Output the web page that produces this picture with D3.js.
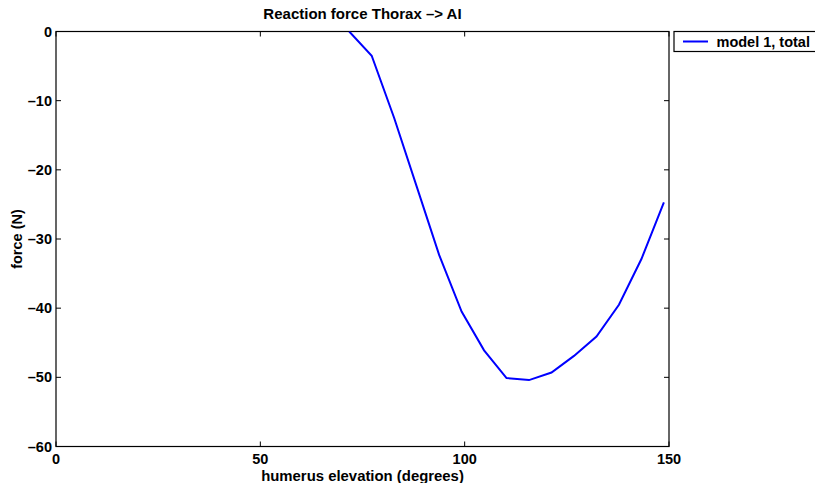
<!DOCTYPE html>
<html><head><meta charset="utf-8">
<script src="https://cdn.jsdelivr.net/npm/d3@7"></script>
<style>
html,body{margin:0;padding:0;background:#fff;}
text{font-family:"Liberation Sans",Arial,Helvetica,sans-serif;font-weight:bold;}
</style></head>
<body>
<svg id="chart" width="815" height="483"></svg>
<script>
const elevation = [71.75, 77.25, 82.75, 88.25, 93.75, 99.25, 104.75, 110.25, 115.75, 121.25, 126.75, 132.25, 137.75, 143.25, 148.75];
const force = [0.0, -3.5, -12.5, -22.4, -32.3, -40.5, -46.1, -50.1, -50.4, -49.3, -46.9, -44.1, -39.5, -32.9, -24.7];
const xTicks = [0, 50, 100, 150];
const yTicks = [0, -10, -20, -30, -40, -50, -60];
const seriesName = "model 1, total";
const titleText = "Reaction force Thorax \u2013> AI";
const xLabel = "humerus elevation (degrees)";
const yLabel = "force (N)";

const svg = d3.select("#chart");
const L = 56, R = 669, T = 31.5, B = 446.5;
const x = d3.scaleLinear().domain([0, 150]).range([L, R]);
const y = d3.scaleLinear().domain([-60, 0]).range([B, T]);

svg.append("defs").append("clipPath").attr("id","clip")
  .append("rect").attr("x",L).attr("y",T).attr("width",R-L).attr("height",B-T);

const tl = 5, fs = 14.5;
const g = svg.append("g");
xTicks.forEach(v=>{
  g.append("line").attr("x1",x(v)).attr("x2",x(v)).attr("y1",B).attr("y2",B-tl).attr("stroke","#000");
  g.append("line").attr("x1",x(v)).attr("x2",x(v)).attr("y1",T).attr("y2",T+tl).attr("stroke","#000");
  g.append("text").attr("x",x(v)).attr("y",B+17).attr("text-anchor","middle").attr("font-size",fs).text(v);
});
yTicks.forEach(v=>{
  g.append("line").attr("x1",L).attr("x2",L+tl).attr("y1",y(v)).attr("y2",y(v)).attr("stroke","#000");
  g.append("line").attr("x1",R).attr("x2",R-tl).attr("y1",y(v)).attr("y2",y(v)).attr("stroke","#000");
  g.append("text").attr("x",L-4).attr("y",y(v)+5).attr("text-anchor","end").attr("font-size",fs)
    .text(v<0 ? "\u2013"+Math.abs(v) : v);
});

svg.append("rect").attr("x",L).attr("y",T).attr("width",R-L).attr("height",B-T)
  .attr("fill","none").attr("stroke","#000").attr("stroke-width",1.2);

const line = d3.line().x((d,i)=>x(elevation[i])).y(d=>y(d));
svg.append("path").datum(force).attr("d",line).attr("clip-path","url(#clip)")
  .attr("fill","none").attr("stroke","#0000ff").attr("stroke-width",2);

svg.append("text").attr("x",(L+R)/2).attr("y",19).attr("text-anchor","middle").attr("font-size",15).text(titleText);
svg.append("text").attr("x",(L+R)/2).attr("y",480.5).attr("text-anchor","middle").attr("font-size",fs+0.4).text(xLabel);
svg.append("text").attr("transform",`translate(22,${(T+B)/2}) rotate(-90)`).attr("text-anchor","middle").attr("font-size",fs).text(yLabel);

const lg = svg.append("g");
lg.append("rect").attr("x",674).attr("y",31.5).attr("width",160).attr("height",20)
  .attr("fill","#fff").attr("stroke","#000").attr("stroke-width",1.2);
lg.append("line").attr("x1",683).attr("x2",708).attr("y1",41.5).attr("y2",41.5).attr("stroke","#0000ff").attr("stroke-width",2);
lg.append("text").attr("x",716.5).attr("y",47).attr("font-size",fs).text(seriesName);
</script>
</body></html>
